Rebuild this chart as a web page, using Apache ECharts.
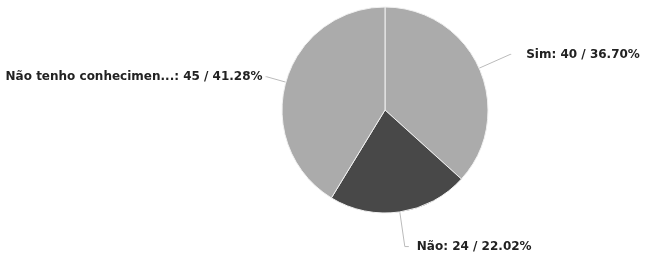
<!DOCTYPE html>
<html>
<head>
<meta charset="utf-8">
<script src="https://cdn.jsdelivr.net/npm/echarts@6/dist/echarts.min.js"></script>
<style>
  html, body { margin: 0; padding: 0; background: #fff; }
  #chart { width: 649px; height: 259px; }
</style>
</head>
<body>
<div id="chart"></div>
<script>
var categories = ["Sim", "Não", "Não tenho conhecimento"];
var values = [40, 24, 45];
var colors = ["#ababab", "#484848", "#ababab"];
// label line lengths per slice, to push labels where the original had them
var lineLen = [34, 35, 20];
var lineLen2 = [1, 4, 1];
var labelGap = [15, 8, 3];

var total = values.reduce(function (a, b) { return a + b; }, 0);

var chart = echarts.init(document.getElementById("chart"));

var option = {
  animation: false,
  series: [
    {
      type: "pie",
      center: [385, 110],
      radius: 103,
      startAngle: 90,
      clockwise: true,
      itemStyle: {
        borderColor: "#f0f0f0",
        borderWidth: 1
      },
      label: {
        fontFamily: "DejaVu Sans",
        fontWeight: "bold",
        fontSize: 12,
        color: "#222",
        width: 280,
        formatter: function (p) {
          var name = p.name.length > 20 ? p.name.slice(0, 20) + "..." : p.name;
          var pct = (p.value / total * 100).toFixed(2);
          return name + ": " + p.value + " / " + pct + "%";
        }
      },
      labelLine: {
        lineStyle: { color: "#bbb", width: 1 }
      },
      data: categories.map(function (c, i) {
        return {
          name: c,
          value: values[i],
          itemStyle: { color: colors[i] },
          label: { distanceToLabelLine: labelGap[i] },
          labelLine: { length: lineLen[i], length2: lineLen2[i] }
        };
      })
    }
  ]
};

option && chart.setOption(option);
</script>
</body>
</html>
